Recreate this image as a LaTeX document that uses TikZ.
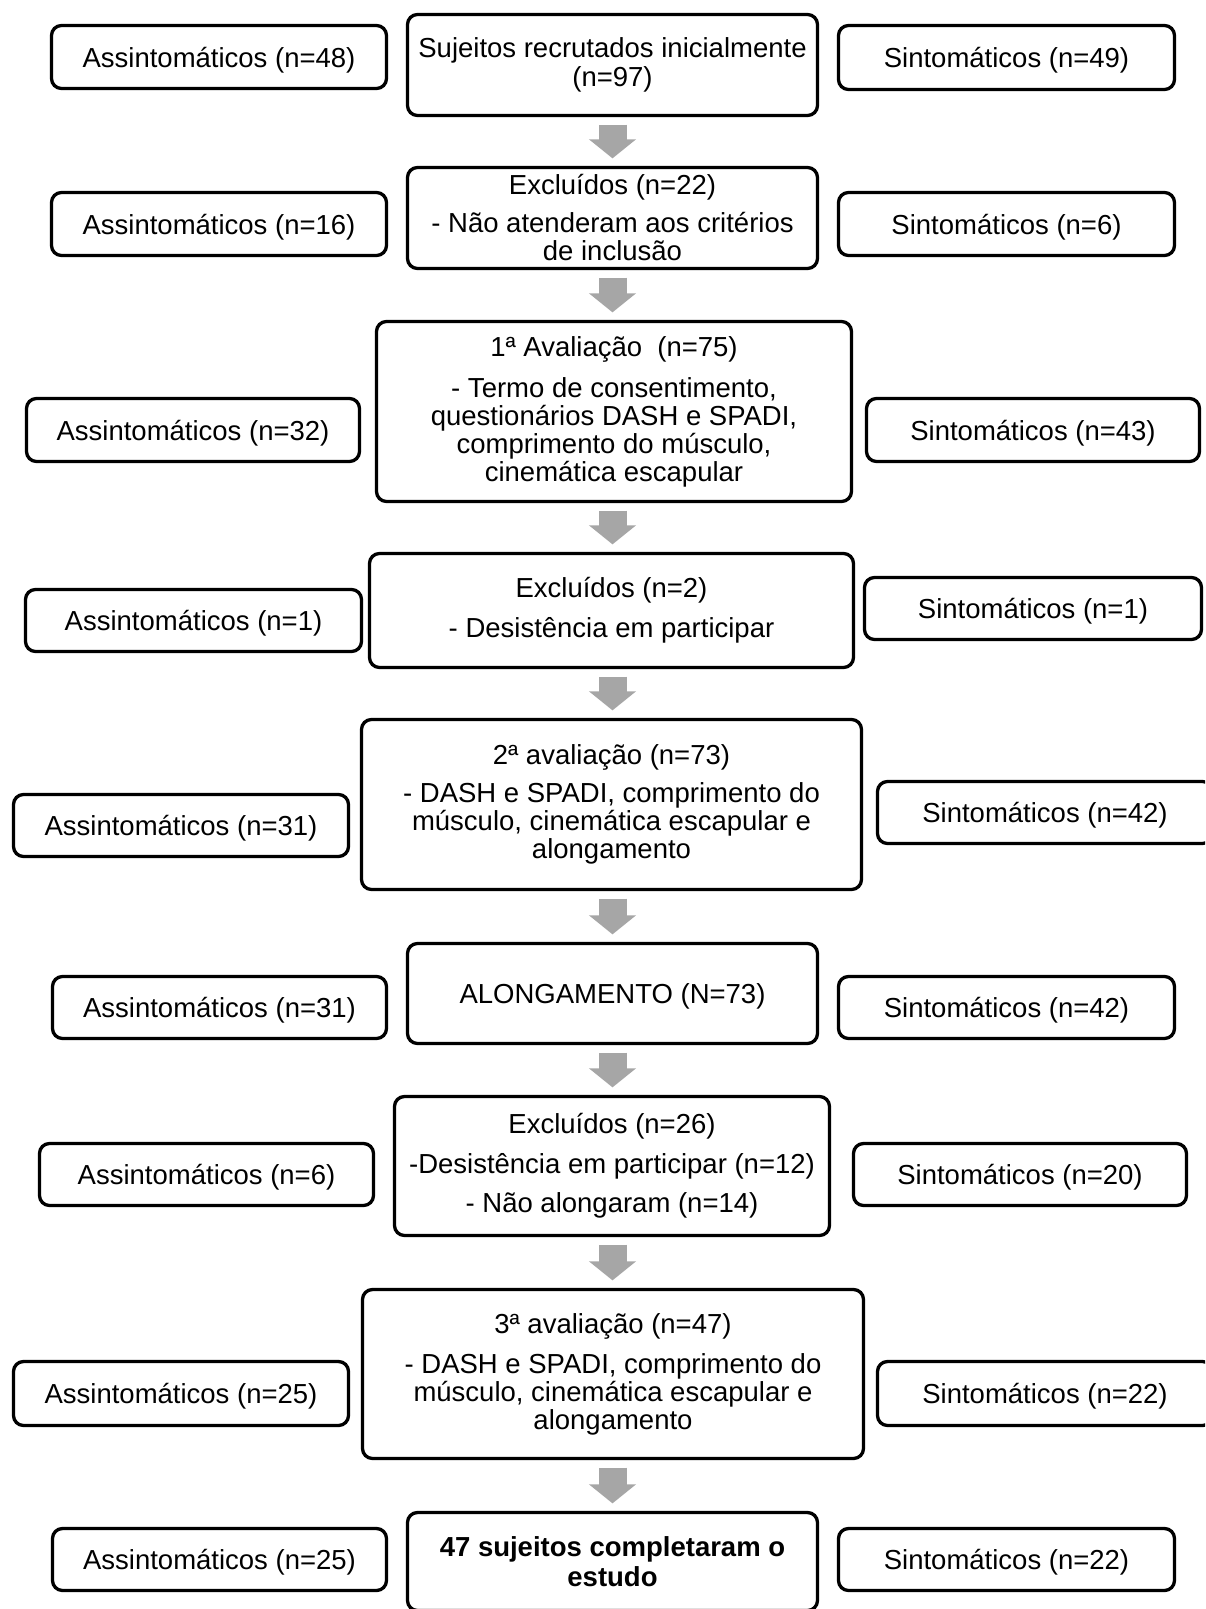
\documentclass[tikz,border=0pt]{standalone}
\usepackage{fontspec}
\setmainfont{Liberation Sans}
\usetikzlibrary{arrows.meta}
\definecolor{arrowgray}{HTML}{A6A6A6}
\tikzset{
  box/.style={draw, line width=3.3pt, rounded corners=10pt, inner sep=0pt,
    align=center, fill=white, font=\fontsize{27.5}{28}\selectfont},
  one/.style={text height=20pt, text depth=0pt},
  sz/.style 2 args={minimum width=#1pt, minimum height=#2pt},
  flow/.style={draw=arrowgray, line width=28pt,
    -{Triangle[length=19pt,width=46pt]}, shorten <=7.5pt, shorten >=7.5pt}
}
\begin{document}
\begin{tikzpicture}[x=1pt,y=-1pt]
\clip (0,0) rectangle (1205,1609);
\fill[white] (0,0) rectangle (1205,1609);
% Row 1
\node[box, one, sz={335}{63}] (L1) at (219,57) {Assintomáticos (n=48)};
\node[box, sz={410}{101}] (C1) at (612.5,65) {Sujeitos recrutados inicialmente\\[1pt](n=97)};
\node[box, one, sz={336}{64}] (R1) at (1006.5,57.5) {Sintomáticos (n=49)};
% Row 2
\node[box, one, sz={335}{63}] (L2) at (219,224) {Assintomáticos (n=16)};
\node[box, sz={410}{101}] (C2) at (612.5,218) {Excluídos (n=22)\\[10pt]- Não atenderam aos critérios\\de inclusão};
\node[box, one, sz={336}{63}] (R2) at (1006.5,224) {Sintomáticos (n=6)};
% Row 3
\node[box, one, sz={333}{63}] (L3) at (193,430) {Assintomáticos (n=32)};
\node[box, sz={475}{180}] (C3) at (614,411.5) {1ª Avaliação\ \ (n=75)\\[13pt]- Termo de consentimento,\\questionários DASH e SPADI,\\comprimento do músculo,\\cinemática escapular};
\node[box, one, sz={333}{63}] (R3) at (1033,430) {Sintomáticos (n=43)};
% Row 4
\node[box, one, sz={336}{62}] (L4) at (193.5,620.5) {Assintomáticos (n=1)};
\node[box, sz={484}{114}] (C4) at (611.5,610.5) {Excluídos (n=2)\\[12pt]- Desistência em participar};
\node[box, one, sz={337}{62}] (R4) at (1033,608.5) {Sintomáticos (n=1)};
% Row 5
\node[box, one, sz={335}{62}] (L5) at (181,825.5) {Assintomáticos (n=31)};
\node[box, sz={500}{170}] (C5) at (611.5,804.5) {2ª avaliação (n=73)\\[10pt]- DASH e SPADI, comprimento do\\músculo, cinemática escapular e\\alongamento};
\node[box, one, sz={335}{62}] (R5) at (1045,812.5) {Sintomáticos (n=42)};
% Row 6
\node[box, one, sz={334}{62}] (L6) at (219.5,1007.5) {Assintomáticos (n=31)};
\node[box, one, sz={410}{100}] (C6) at (612.5,993.5) {ALONGAMENTO (N=73)};
\node[box, one, sz={336}{62}] (R6) at (1006.5,1007.5) {Sintomáticos (n=42)};
% Row 7
\node[box, one, sz={334}{62}] (L7) at (206.5,1174.5) {Assintomáticos (n=6)};
\node[box, sz={435}{139}] (C7) at (612,1166) {Excluídos (n=26)\\[11.5pt]-Desistência em participar (n=12)\\[11.5pt]- Não alongaram (n=14)};
\node[box, one, sz={333}{62}] (R7) at (1020,1174.5) {Sintomáticos (n=20)};
% Row 8
\node[box, one, sz={335}{64}] (L8) at (181,1393.5) {Assintomáticos (n=25)};
\node[box, sz={501}{169}] (C8) at (613,1374) {3ª avaliação (n=47)\\[12pt]- DASH e SPADI, comprimento do\\músculo, cinemática escapular e\\alongamento};
\node[box, one, sz={335}{64}] (R8) at (1045,1393.5) {Sintomáticos (n=22)};
% Row 9
\node[box, one, sz={334}{62}] (L9) at (219.5,1559.5) {Assintomáticos (n=25)};
\node[box, sz={410}{98}, font=\fontsize{27.5}{29.5}\selectfont\bfseries] (C9) at (612.5,1561.5) {47 sujeitos completaram o\\estudo};
\node[box, one, sz={336}{62}] (R9) at (1006.5,1559.5) {Sintomáticos (n=22)};
% Arrows
\draw[flow] (C1.south) -- (C1.south |- C2.north);
\draw[flow] (C2.south) -- (C2.south |- C3.north);
\draw[flow] (C3.south -| C2.south) -- (C2.south |- C4.north);
\draw[flow] (C4.south -| C2.south) -- (C2.south |- C5.north);
\draw[flow] (C5.south -| C2.south) -- (C2.south |- C6.north);
\draw[flow] (C6.south) -- (C6.south |- C7.north);
\draw[flow] (C7.south -| C6.south) -- (C6.south |- C8.north);
\draw[flow] (C8.south -| C6.south) -- (C6.south |- C9.north);
\end{tikzpicture}
\end{document}
